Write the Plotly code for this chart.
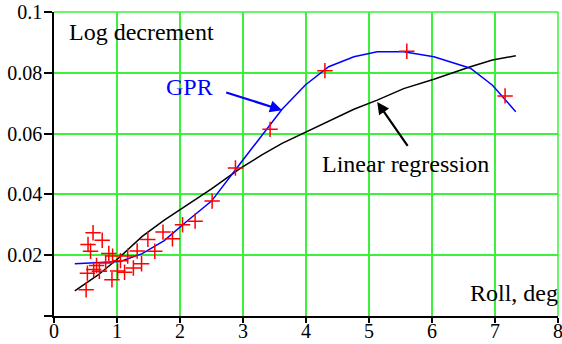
import plotly.graph_objects as go

# measured data (red crosses)
meas_x = [0.51, 0.53, 0.54, 0.58, 0.62, 0.63, 0.675, 0.72, 0.765, 0.82, 0.87, 0.92, 0.93,
          1.01, 1.055, 1.12, 1.17, 1.26, 1.32, 1.39, 1.49, 1.60, 1.73, 1.88, 2.04, 2.24,
          2.51, 2.88, 3.43, 4.30, 5.60, 7.16]
meas_y = [0.0086, 0.0141, 0.0235, 0.0213, 0.0274, 0.0153, 0.0166, 0.0147, 0.0249, 0.0174,
          0.0206, 0.0119, 0.0197, 0.0148, 0.0182, 0.0144, 0.0197, 0.0158, 0.0214, 0.0172,
          0.0252, 0.0213, 0.0276, 0.0254, 0.0300, 0.0312, 0.0378, 0.0487, 0.0614, 0.0807,
          0.0871, 0.0724]

# GPR curve
gpr_x = [0.33, 0.70, 1.05, 1.40, 1.75, 2.10, 2.50, 2.95, 3.30, 3.62, 3.99, 4.36, 4.76,
         5.13, 5.55, 6.03, 6.61, 6.96, 7.33]
gpr_y = [0.0172, 0.0175, 0.0179, 0.0205, 0.0248, 0.0310, 0.0378, 0.0500, 0.0595, 0.0680,
         0.0760, 0.0820, 0.0853, 0.0869, 0.0869, 0.0853, 0.0815, 0.0759, 0.0672]

# Linear regression curve
lin_x = [0.33, 0.70, 1.05, 1.40, 1.75, 2.10, 2.50, 2.95, 3.30, 3.62, 3.99, 4.36, 4.76,
         5.13, 5.55, 6.03, 6.61, 6.96, 7.33]
lin_y = [0.0083, 0.0135, 0.0195, 0.0262, 0.0315, 0.0362, 0.0418, 0.0485, 0.0530, 0.0568,
         0.0605, 0.0640, 0.0680, 0.0710, 0.0748, 0.0779, 0.0820, 0.0842, 0.0856]

x_ticks = [0, 1, 2, 3, 4, 5, 6, 7, 8]
y_ticks = [0, 0.02, 0.04, 0.06, 0.08, 0.1]
y_ticktext = ["", "0.02", "0.04", "0.06", "0.08", "0.1"]

FONT = "Liberation Serif"
FS = 20      # tick labels
AFS = 24     # annotation text
GRID = "#3cf03c"

fig = go.Figure()
fig.add_trace(go.Scatter(x=lin_x, y=lin_y, mode="lines",
                         line=dict(color="black", width=1.5), showlegend=False))
fig.add_trace(go.Scatter(x=gpr_x, y=gpr_y, mode="lines",
                         line=dict(color="#0000ff", width=1.5), showlegend=False))
fig.add_trace(go.Scatter(x=meas_x, y=meas_y, mode="markers",
                         marker=dict(symbol="cross-thin", size=11,
                                     line=dict(color="#ff0000", width=1.5)),
                         showlegend=False))

annotations = [
    dict(text="Log decrement", x=0.20, y=0.0934, xref="x", yref="y", showarrow=False,
         xanchor="left", yanchor="middle", font=dict(family=FONT, size=AFS, color="black")),
    dict(text="Roll, deg", x=1.004, y=0.0077, xref="paper", yref="y", showarrow=False,
         xanchor="right", yanchor="middle", font=dict(family=FONT, size=AFS, color="black")),
    dict(text="GPR", x=2.55, y=0.0753, xref="x", yref="y", showarrow=False,
         xanchor="right", yanchor="middle", font=dict(family=FONT, size=AFS, color="#0000ff")),
    dict(text="Linear regression", x=4.22, y=0.0500, xref="x", yref="y", showarrow=False,
         xanchor="left", yanchor="middle", font=dict(family=FONT, size=AFS, color="black")),
    dict(text="", x=3.62, y=0.0677, ax=2.71, ay=0.0737, xref="x", yref="y",
         axref="x", ayref="y", showarrow=True, arrowhead=2, arrowsize=1.1,
         arrowwidth=2.2, arrowcolor="#0000ff"),
    dict(text="", x=5.13, y=0.0704, ax=5.63, ay=0.0555, xref="x", yref="y",
         axref="x", ayref="y", showarrow=True, arrowhead=2, arrowsize=1.1,
         arrowwidth=2.2, arrowcolor="black"),
]

shapes = [
    dict(type="line", xref="paper", yref="paper", x0=0, x1=1, y0=1, y1=1,
         line=dict(color=GRID, width=1.5), layer="below"),
    dict(type="line", xref="paper", yref="paper", x0=1, x1=1, y0=0, y1=1,
         line=dict(color=GRID, width=1.5), layer="below"),
]

fig.update_layout(
    width=562, height=344,
    margin=dict(l=54, r=4, t=12, b=28),
    paper_bgcolor="white", plot_bgcolor="white",
    font=dict(family=FONT, size=FS, color="black"),
    annotations=annotations, shapes=shapes,
)
fig.update_xaxes(range=[0, 8], tickvals=x_ticks, showgrid=True, gridcolor=GRID, gridwidth=1.5,
                 zeroline=False, showline=True, linecolor="black", linewidth=1.5,
                 ticks="outside", ticklen=5, tickcolor="black", tickwidth=1.5,
                 ticklabelstandoff=-9, ticklabeloverflow="allow", automargin=False,
                 tickfont=dict(family=FONT, size=FS))
fig.update_yaxes(range=[0, 0.1], tickvals=y_ticks, ticktext=y_ticktext, showgrid=True,
                 gridcolor=GRID, gridwidth=1.5, zeroline=False, showline=True,
                 linecolor="black", linewidth=1.5, ticks="outside", ticklen=8,
                 tickcolor="black", tickwidth=1.5, ticklabelstandoff=-2,
                 ticklabeloverflow="allow", automargin=False,
                 tickfont=dict(family=FONT, size=FS))

fig.write_html("out.html", config={"displayModeBar": False},
               post_script="document.body.style.margin='0';")
